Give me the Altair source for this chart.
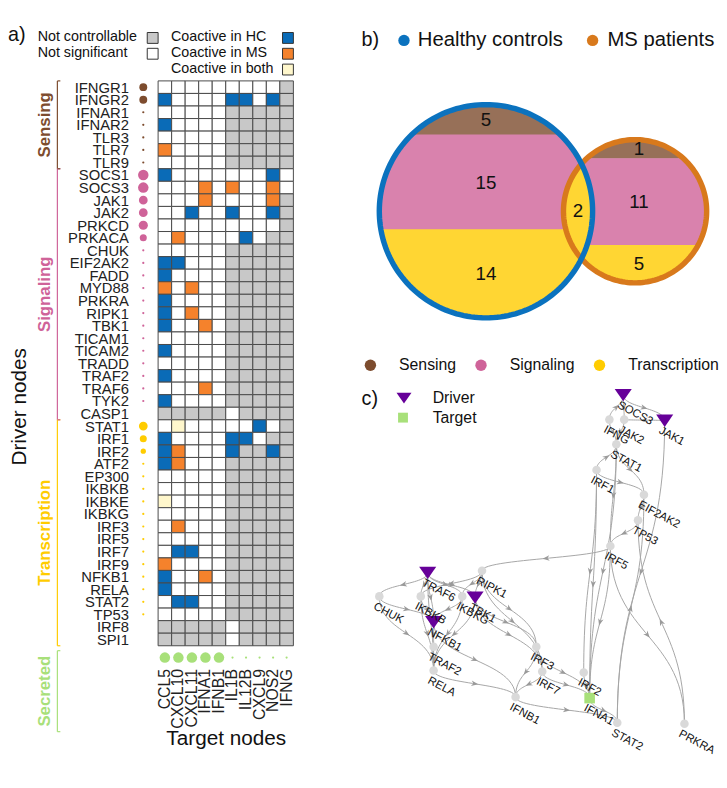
import json
import math
import numpy as np
import pandas as pd
import altair as alt

FONT = "Liberation Sans"

# ---------------- (a) driver / target heatmap ----------------
drivers = ["IFNGR1", "IFNGR2", "IFNAR1", "IFNAR2", "TLR3", "TLR7", "TLR9",
           "SOCS1", "SOCS3", "JAK1", "JAK2", "PRKCD", "PRKACA", "CHUK", "EIF2AK2",
           "FADD", "MYD88", "PRKRA", "RIPK1", "TBK1", "TICAM1", "TICAM2", "TRADD",
           "TRAF2", "TRAF6", "TYK2", "CASP1",
           "STAT1", "IRF1", "IRF2", "ATF2", "EP300", "IKBKB", "IKBKE", "IKBKG",
           "IRF3", "IRF5", "IRF7", "IRF9", "NFKB1", "RELA", "STAT2", "TP53",
           "IRF8", "SPI1"]
driver_group = ["Sensing"] * 7 + ["Signaling"] * 20 + ["Transcription"] * 18
driver_dot = [9, 9, 2.5, 2.5, 2.5, 2.5, 2.5,
              12, 12, 10, 10, 10.5, 8] + [2.5] * 13 + [0] + \
             [10, 8, 6] + [2.5] * 13 + [0, 0]

targets = ["CCL5", "CXCL10", "CXCL11", "IFNA1", "IFNB1", "IL1B", "IL12B", "CXCL9", "NOS2", "IFNG"]
target_dot = [12, 12, 12, 12, 12, 2.5, 2.5, 2.5, 2.5, 2.5]

# G = not controllable, W = not significant, B = coactive HC, O = coactive MS, Y = both
status_rows = [
    "WWWWWWWWWG", "BWWWWBBWBG", "WWWWWGGGGG", "BWWWWGGGGG", "WWWWWGGGGG", "OWWWWGGGGG", "WWWWWGGGGG",
    "BWWWWWWWBW", "WWWOWOWWOW", "WWWOWWWWOG", "WWBWWBWWBG", "WWWWWWWWWG", "WOWWWWBWGG", "WWWWWGGGGG",
    "BBWWWGGGGG", "BWWWWGGGGG", "OWOWWGGGGG", "BWWWWGGGGG", "BWOWWGGGGG", "BWWOWGGGGG", "WWWWWGGGGG",
    "BWWWWGGGGG", "WWWWWGGGGG", "BWWWWGGGGG", "WWWOWGGGGG", "BWWWWGGGGG", "GGGGGWGGGG",
    "WYWWWWWBWG", "BWWWWBBWGG", "BOWWWBGGBG", "BOWWWGGGGG", "WWWWWGGGGG", "WWWWWGGGGG", "YWWWWGGGGG",
    "WWWWWGGGGG", "WOWWWGGGGG", "WWWWWGGGGG", "WBBWWGGGGG", "OWWWWGGGGG", "BWWOWGGGGG", "BWWWWGGGGG",
    "WBBWWGGGGG", "WWWWWGGGGG", "GGGGGWGGGG", "GGGGGWGGGG",
]
status_code = {"G": "Not controllable", "W": "Not significant", "B": "Coactive in HC",
               "O": "Coactive in MS", "Y": "Coactive in both"}
legend_left = ["Not controllable", "Not significant"]
legend_right = ["Coactive in HC", "Coactive in MS", "Coactive in both"]
categories = ["Sensing", "Signaling", "Transcription", "Secreted"]

# ---------------- (b) Venn counts ----------------
venn_cats = ["Sensing", "Signaling", "Transcription"]
hc_only = [5, 15, 14]
ms_only = [1, 11, 5]
shared_transcription = 2
set_names = ["Healthy controls", "MS patients"]

# ---------------- (c) network ----------------
node_names = ["SOCS3", "JAK1", "IFNG", "JAK2", "STAT1", "IRF1", "EIF2AK2", "TP53", "IRF5",
              "RIPK1", "TRAF6", "CHUK", "IKBKB", "IKBKG", "TBK1", "NFKB1", "TRAF2", "RELA",
              "IRF3", "IRF7", "IRF2", "IFNB1", "IFNA1", "STAT2", "PRKRA"]
node_kind = ["Driver", "Driver", "Other", "Other", "Other", "Other", "Other", "Other", "Other",
             "Other", "Driver", "Other", "Other", "Other", "Driver", "Driver", "Other", "Other",
             "Other", "Other", "Other", "Other", "Target", "Other", "Other"]
# layout positions of the drawn graph
node_x = [281, 323, 267, 282, 274, 254, 302, 296, 268,
          138, 83, 34, 76, 118, 131, 89, 89, 89,
          193, 199, 241, 172, 247, 275, 343]
node_y = [390, 416, 415, 415, 440, 466, 491, 517, 543,
          568, 570, 594, 594, 594, 595, 620, 645, 669,
          645, 670, 671, 696, 697, 722, 723]
net_edges = [
    ("IFNG", "SOCS3"), ("SOCS3", "JAK2"), ("SOCS3", "JAK1"), ("JAK1", "JAK2"), ("JAK2", "STAT1"),
    ("IFNG", "STAT1"), ("IRF1", "STAT1"), ("STAT1", "EIF2AK2"), ("IRF1", "EIF2AK2"),
    ("EIF2AK2", "TP53"), ("TP53", "IRF5"), ("STAT1", "IRF5"), ("IRF5", "RIPK1"), ("IRF1", "IRF2"),
    ("IRF1", "IFNA1"), ("IRF5", "IFNA1"), ("STAT1", "IFNA1"), ("JAK1", "STAT2"), ("STAT2", "EIF2AK2"),
    ("PRKRA", "TP53"), ("IRF5", "PRKRA"),
    ("TRAF6", "CHUK"), ("TRAF6", "IKBKB"), ("TRAF6", "IKBKG"), ("TRAF6", "TBK1"), ("TRAF6", "NFKB1"),
    ("TRAF6", "RELA"), ("RIPK1", "IKBKB"), ("RIPK1", "IKBKG"), ("RIPK1", "TBK1"), ("RIPK1", "IRF3"),
    ("RIPK1", "IRF7"), ("CHUK", "NFKB1"), ("CHUK", "RELA"), ("IKBKB", "NFKB1"), ("IKBKB", "RELA"),
    ("IKBKG", "NFKB1"), ("IKBKG", "RELA"), ("TBK1", "IRF3"), ("TBK1", "IRF7"), ("TBK1", "RELA"),
    ("NFKB1", "TRAF2"), ("TRAF2", "RELA"), ("NFKB1", "IFNB1"), ("RELA", "IFNB1"),
    ("IRF3", "IFNB1"), ("IRF7", "IFNB1"), ("IRF3", "IFNA1"), ("IRF7", "IFNA1"), ("IRF2", "IFNA1"),
    ("IFNB1", "STAT2"), ("IFNA1", "STAT2"),
]

# ---------------- styles ----------------
STATUS_COL = {"Not controllable": "#C8C8C8", "Not significant": "#FFFFFF",
              "Coactive in HC": "#0A6BB7", "Coactive in MS": "#F5822C", "Coactive in both": "#FFF7CC"}
CAT_COL = {"Sensing": "#7D4C2E", "Signaling": "#CF6399", "Transcription": "#FFCC00", "Secreted": "#A8E07A"}
SET_COL = {"Healthy controls": "#0B72BE", "MS patients": "#D8791C"}
NODE_COL = {"Driver": "#660099", "Target": "#A8E07A", "Other": "#D9D9D9"}


def tint(hexcol, a):
    h = hexcol.lstrip("#")
    rgb = [int(h[i:i + 2], 16) for i in (0, 2, 4)]
    return "#" + "".join("%02X" % round(a * c + (1 - a) * 255) for c in rgb)


one = pd.DataFrame({"k": [0]})

# =============== panel a ===============
NR = len(drivers)
WA, HA = 137, 572
yA = alt.Scale(domain=[0, NR], reverse=True, nice=False, zero=False)
xA = alt.Scale(paddingInner=0, paddingOuter=0)
colA = alt.Scale(domain=list(STATUS_COL) + categories,
                 range=list(STATUS_COL.values()) + [CAT_COL[c] for c in categories])
sizeA = alt.Scale(type="pow", exponent=2, domain=[0, 12], range=[0, 113])

label_expr = json.dumps(drivers) + "[floor(datum.value)]"
axisX = alt.Axis(title="Target nodes", orient="bottom", labelAngle=270, labelAlign="right",
                 labelBaseline="middle", labelPadding=23, ticks=False, domain=False,
                 labelFontSize=16, labelColor="#222222", titleFontSize=21,
                 titleFontWeight="normal", titlePadding=0, titleColor="#111111")
axisY = alt.Axis(values=[i + 0.5 for i in range(NR)], labelExpr=label_expr, title=None,
                 ticks=False, domain=False, grid=False, labelPadding=30, labelFontSize=15,
                 labelColor="#222222", labelOverlap=False, labelFlush=False)


def YA(f):
    return alt.Y(f, scale=yA, axis=axisY)


cell_rows = []
for i, (d, s) in enumerate(zip(drivers, status_rows)):
    for j, t in enumerate(targets):
        cell_rows.append(dict(driver=d, target=t, r0=i, r1=i + 1, status=status_code[s[j]]))
cells = pd.DataFrame(cell_rows)

heat = alt.Chart(cells).mark_rect(stroke="#4a4a4a", strokeWidth=1).encode(
    x=alt.X("target:N", sort=targets, scale=xA, axis=axisX),
    y=YA("r0:Q"),
    y2="r1:Q",
    color=alt.Color("status:N", scale=colA, legend=None),
)

ddf = pd.DataFrame(dict(driver=drivers, rm=[i + 0.5 for i in range(NR)], group=driver_group, w=driver_dot))
ddots = alt.Chart(ddf).mark_circle(opacity=1).encode(
    x=alt.value(-15),
    y=YA("rm:Q"),
    size=alt.Size("w:Q", scale=sizeA, legend=None),
    color=alt.Color("group:N", scale=colA, legend=None),
)

tdf = pd.DataFrame(dict(target=targets, w=target_dot, group="Secreted"))
tdots = alt.Chart(tdf).mark_circle(opacity=1).encode(
    x=alt.X("target:N", sort=targets, scale=xA, axis=axisX),
    y=alt.value(HA + 12),
    size=alt.Size("w:Q", scale=sizeA, legend=None),
    color=alt.Color("group:N", scale=colA, legend=None),
)

grp_rows = []
for g in categories[:3]:
    idx = [i for i, gg in enumerate(driver_group) if gg == g]
    grp_rows.append(dict(name=g, top=idx[0], bot=idx[-1] + 1, mid=(idx[0] + idx[-1] + 1) / 2))
gdf = pd.DataFrame(grp_rows)

brk = alt.Chart(gdf).mark_rule(strokeWidth=1.2).encode(
    x=alt.value(-102), y=YA("top:Q"), y2="bot:Q",
    color=alt.Color("name:N", scale=colA, legend=None))
brk_t = alt.Chart(gdf).mark_rule(strokeWidth=1.2).encode(
    x=alt.value(-102), x2=alt.value(-99), y=YA("top:Q"),
    color=alt.Color("name:N", scale=colA, legend=None))
brk_b = alt.Chart(gdf).mark_rule(strokeWidth=1.2).encode(
    x=alt.value(-102), x2=alt.value(-99), y=YA("bot:Q"),
    color=alt.Color("name:N", scale=colA, legend=None))
grp_lab = alt.Chart(gdf).mark_text(angle=270, fontSize=17, fontWeight="bold", align="center",
                                   baseline="middle").encode(
    x=alt.value(-114), y=YA("mid:Q"), text="name:N",
    color=alt.Color("name:N", scale=colA, legend=None))

sec = pd.DataFrame({"name": ["Secreted"]})
sec_line = alt.Chart(sec).mark_rule(strokeWidth=1.2).encode(
    x=alt.value(-102), y=alt.value(HA + 5), y2=alt.value(HA + 87),
    color=alt.Color("name:N", scale=colA, legend=None))
sec_t = alt.Chart(sec).mark_rule(strokeWidth=1.2).encode(
    x=alt.value(-102), x2=alt.value(-99), y=alt.value(HA + 5),
    color=alt.Color("name:N", scale=colA, legend=None))
sec_b = alt.Chart(sec).mark_rule(strokeWidth=1.2).encode(
    x=alt.value(-102), x2=alt.value(-99), y=alt.value(HA + 87),
    color=alt.Color("name:N", scale=colA, legend=None))
sec_lab = alt.Chart(sec).mark_text(angle=270, fontSize=17, fontWeight="bold", align="center",
                                   baseline="middle").encode(
    x=alt.value(-114), y=alt.value(HA + 46), text="name:N",
    color=alt.Color("name:N", scale=colA, legend=None))

legend_layers = []
for col, items in enumerate([legend_left, legend_right]):
    tx = -122 if col == 0 else 13
    bx = -11 if col == 0 else WA - 11
    for r, lab in enumerate(items):
        ldf = pd.DataFrame({"status": [lab]})
        legend_layers.append(alt.Chart(ldf).mark_text(align="left", baseline="alphabetic", fontSize=14.5,
                                                      color="#111111").encode(
            x=alt.value(tx), y=alt.value(-40 + 16 * r), text="status:N"))
        legend_layers.append(alt.Chart(ldf).mark_rect(stroke="#333333", strokeWidth=1).encode(
            x=alt.value(bx), x2=alt.value(bx + 11), y=alt.value(-49 + 16 * r), y2=alt.value(-38 + 16 * r),
            color=alt.Color("status:N", scale=colA, legend=None)))

a_lab = alt.Chart(one).mark_text(text="a)", fontSize=20, align="left", baseline="alphabetic",
                                 color="#111111").encode(x=alt.value(-152), y=alt.value(-40))
drv_title = alt.Chart(one).mark_text(text="Driver nodes", fontSize=21, angle=270, align="center",
                                     baseline="middle", color="#111111").encode(
    x=alt.value(-140), y=alt.value(330))
top_pad = alt.Chart(one).mark_point(opacity=0, size=1).encode(x=alt.value(0), y=alt.value(-68))

panelA = alt.layer(heat, ddots, tdots, brk, brk_t, brk_b, grp_lab, sec_line, sec_t, sec_b, sec_lab,
                   *legend_layers, a_lab, drv_title, top_pad).properties(width=WA, height=HA)

# =============== right panel (b + c) ===============
# coordinates of the right panel are page-like: y0 = top of the figure
Y0 = 72
WR, HR = 374, 693
xs = alt.Scale(domain=[0, WR], nice=False, zero=False)
ys = alt.Scale(domain=[Y0, Y0 + HR], reverse=True, nice=False, zero=False)
colR = alt.Scale(domain=venn_cats + set_names + ["Driver", "Target", "Other"],
                 range=[CAT_COL[c] for c in venn_cats] + [SET_COL[s] for s in set_names]
                 + [NODE_COL[k] for k in ["Driver", "Target", "Other"]])
fillR = alt.Scale(domain=venn_cats, range=[tint(CAT_COL[c], 0.8) for c in venn_cats])
strokeR = alt.Scale(domain=set_names, range=[SET_COL[s] for s in set_names])


def X(f):
    return alt.X(f, scale=xs, axis=None)


def Y(f):
    return alt.Y(f, scale=ys, axis=None)


# --- Venn geometry
cx1, cy, R1 = 142.0, 204.0, 108.0
cx2, R2 = 293.0, 72.5
cuts1 = [0.1435, 0.588]   # band boundaries as fraction of diameter (top to bottom)
cuts2 = [0.134, 0.741]
D = cx2 - cx1
xi = (R1 ** 2 - R2 ** 2 + D ** 2) / (2 * D)
hlens = math.sqrt(R1 ** 2 - xi ** 2)


def s1(y):
    return math.sqrt(max(R1 ** 2 - (y - cy) ** 2, 0.0))


def s2(y):
    return math.sqrt(max(R2 ** 2 - (y - cy) ** 2, 0.0))


def in_lens(y):
    return abs(y - cy) <= hlens


def yrange(a, b):
    ys_ = list(np.linspace(a, b, 80))
    for e in (cy - hlens, cy + hlens):
        if a < e < b:
            ys_.append(e)
    return sorted(ys_)


area_rows = []
bands1 = [cy - R1] + [cy - R1 + f * 2 * R1 for f in cuts1] + [cy + R1]
bands2 = [cy - R2] + [cy - R2 + f * 2 * R2 for f in cuts2] + [cy + R2]
for k, c in enumerate(venn_cats):
    a, b = bands1[k], bands1[k + 1]
    for y in yrange(a - (0.7 if k else 0), b):
        xl, xr = cx1 - s1(y), cx1 + s1(y)
        if in_lens(y):
            xr = min(xr, cx2 - s2(y))
        area_rows.append(dict(region="HC-" + c, cat=c, y=y, xl=xl, xr=xr))
    a, b = bands2[k], bands2[k + 1]
    for y in yrange(a - (0.7 if k else 0), b):
        xl, xr = cx2 - s2(y), cx2 + s2(y)
        if in_lens(y):
            xl = max(xl, cx1 + s1(y))
        area_rows.append(dict(region="MS-" + c, cat=c, y=y, xl=xl, xr=xr))
for y in np.linspace(cy - hlens, cy + hlens, 80):
    area_rows.append(dict(region="both-Transcription", cat="Transcription", y=y,
                          xl=cx2 - s2(y), xr=cx1 + s1(y)))
adf = pd.DataFrame(area_rows)
venn_fill = alt.Chart(adf).mark_area(orient="horizontal", opacity=1).encode(
    y=Y("y:Q"), x=alt.X("xl:Q", scale=xs, axis=None, stack=None), x2="xr:Q",
    fill=alt.Fill("cat:N", scale=fillR, legend=None), detail="region:N")

ring_rows = []
for sname, (cx, r) in zip(set_names, [(cx1, R1), (cx2, R2)]):
    for i, th in enumerate(np.linspace(0, 2 * math.pi, 181)):
        ring_rows.append(dict(set=sname, i=i, x=cx + r * math.cos(th), y=cy + r * math.sin(th)))
rdf = pd.DataFrame(ring_rows)
ring_ms = alt.Chart(rdf[rdf.set == "MS patients"]).mark_line(strokeWidth=5.5).encode(
    x=X("x:Q"), y=Y("y:Q"), order="i:Q", stroke=alt.Stroke("set:N", scale=strokeR, legend=None))
ring_hc = alt.Chart(rdf[rdf.set == "Healthy controls"]).mark_line(strokeWidth=5.5).encode(
    x=X("x:Q"), y=Y("y:Q"), order="i:Q", stroke=alt.Stroke("set:N", scale=strokeR, legend=None))

num_rows = []
for k in range(3):
    num_rows.append(dict(x=cx1, y=(bands1[k] + bands1[k + 1]) / 2, n=str(hc_only[k])))
    num_rows.append(dict(x=cx2 + 4, y=(bands2[k] + bands2[k + 1]) / 2, n=str(ms_only[k])))
num_rows.append(dict(x=((cx2 - R2) + (cx1 + R1)) / 2, y=cy, n=str(shared_transcription)))
venn_nums = alt.Chart(pd.DataFrame(num_rows)).mark_text(fontSize=19, color="#111111",
                                                        baseline="middle", align="center").encode(
    x=X("x:Q"), y=Y("y:Q"), text="n:N")

# --- panel b title / set legend
b_lab = alt.Chart(pd.DataFrame({"x": [16], "y": [37], "t": ["b)"]})).mark_text(
    fontSize=20, align="left", baseline="alphabetic", color="#111111").encode(x=X("x:Q"), y=Y("y:Q"), text="t:N")
set_leg = pd.DataFrame({"set": set_names, "x": [59, 250], "y": [31, 31], "tx": [73, 265]})
set_dots = alt.Chart(set_leg).mark_circle(size=133, opacity=1).encode(
    x=X("x:Q"), y=Y("y:Q"), color=alt.Color("set:N", scale=colR, legend=None))
set_text = alt.Chart(set_leg).mark_text(fontSize=20.5, align="left", baseline="alphabetic",
                                        color="#111111", dy=6).encode(
    x=X("tx:Q"), y=Y("y:Q"), text="set:N")

# --- category legend
cat_leg = pd.DataFrame({"cat": venn_cats, "x": [25, 137, 257], "tx": [54, 166, 286], "y": [360] * 3})
cat_dots = alt.Chart(cat_leg).mark_circle(size=133, opacity=1).encode(
    x=X("x:Q"), y=Y("y:Q"), color=alt.Color("cat:N", scale=colR, legend=None))
cat_text = alt.Chart(cat_leg).mark_text(fontSize=16, align="left", baseline="middle",
                                        color="#111111").encode(x=X("tx:Q"), y=Y("y:Q"), text="cat:N")

# --- network
pos = {n: (x, y) for n, x, y in zip(node_names, node_x, node_y)}
erows, arows = [], []
for k, (s, t) in enumerate(net_edges):
    x1, y1 = pos[s]
    x2, y2 = pos[t]
    dy = y2 - y1
    P = np.array([[x1, y1], [x1, y1 + 0.5 * dy], [x2, y2 - 0.5 * dy], [x2, y2]], dtype=float)
    for i, tt in enumerate(np.linspace(0, 1, 30)):
        b = (1 - tt) ** 3 * P[0] + 3 * (1 - tt) ** 2 * tt * P[1] + 3 * (1 - tt) * tt ** 2 * P[2] + tt ** 3 * P[3]
        erows.append(dict(edge=k, i=i, x=b[0], y=b[1]))
    tt = 0.5
    b = (1 - tt) ** 3 * P[0] + 3 * (1 - tt) ** 2 * tt * P[1] + 3 * (1 - tt) * tt ** 2 * P[2] + tt ** 3 * P[3]
    d = 3 * (1 - tt) ** 2 * (P[1] - P[0]) + 6 * (1 - tt) * tt * (P[2] - P[1]) + 3 * tt ** 2 * (P[3] - P[2])
    ang = math.degrees(math.atan2(-d[0], d[1])) % 360
    arows.append(dict(edge=k, x=b[0], y=b[1], ang=ang))
edf = pd.DataFrame(erows)
arr_df = pd.DataFrame(arows)
edges = alt.Chart(edf).mark_line(strokeWidth=1, color="#A6A6A6").encode(
    x=X("x:Q"), y=Y("y:Q"), detail="edge:N", order="i:Q")
ARROW = "M0,1L-0.75,-0.9L0,-0.35L0.75,-0.9Z"
arrows = alt.Chart(arr_df).mark_point(shape=ARROW, filled=True, size=55, opacity=1, color="#9A9A9A").encode(
    x=X("x:Q"), y=Y("y:Q"), angle=alt.Angle("ang:Q", scale=None))

ndf = pd.DataFrame(dict(name=node_names, kind=node_kind, x=node_x, y=node_y))
TRI = "M-1,-0.7L1,-0.7L0,0.75Z"
n_other = alt.Chart(ndf[ndf.kind == "Other"]).mark_circle(size=75, opacity=1).encode(
    x=X("x:Q"), y=Y("y:Q"), color=alt.Color("kind:N", scale=colR, legend=None))
n_drv = alt.Chart(ndf[ndf.kind == "Driver"]).mark_point(shape=TRI, filled=True, size=300, opacity=1).encode(
    x=X("x:Q"), y=Y("y:Q"), color=alt.Color("kind:N", scale=colR, legend=None))
n_tgt = alt.Chart(ndf[ndf.kind == "Target"]).mark_square(size=115, opacity=1).encode(
    x=X("x:Q"), y=Y("y:Q"), color=alt.Color("kind:N", scale=colR, legend=None))
n_lab = alt.Chart(ndf).mark_text(angle=28, align="left", baseline="top", dx=0, dy=5, fontSize=11.5,
                                 color="#111111").encode(x=X("x:Q"), y=Y("y:Q"), text="name:N")

# --- network legend
c_lab = alt.Chart(pd.DataFrame({"x": [16], "y": [400], "t": ["c)"]})).mark_text(
    fontSize=20, align="left", baseline="alphabetic", color="#111111").encode(x=X("x:Q"), y=Y("y:Q"), text="t:N")
kleg = pd.DataFrame({"kind": ["Driver", "Target"], "x": [59, 58], "y": [393, 413], "tx": [88, 88]})
k_drv = alt.Chart(kleg[kleg.kind == "Driver"]).mark_point(shape=TRI, filled=True, size=230, opacity=1).encode(
    x=X("x:Q"), y=Y("y:Q"), color=alt.Color("kind:N", scale=colR, legend=None))
k_tgt = alt.Chart(kleg[kleg.kind == "Target"]).mark_square(size=100, opacity=1).encode(
    x=X("x:Q"), y=Y("y:Q"), color=alt.Color("kind:N", scale=colR, legend=None))
k_text = alt.Chart(kleg).mark_text(fontSize=16, align="left", baseline="middle", color="#111111").encode(
    x=X("tx:Q"), y=Y("y:Q"), text="kind:N")

panelR = alt.layer(venn_fill, ring_ms, ring_hc, venn_nums, b_lab, set_dots, set_text, cat_dots, cat_text,
                   edges, arrows, n_other, n_drv, n_tgt, n_lab, c_lab, k_drv, k_tgt, k_text
                   ).properties(width=WR, height=HR)

chart = alt.hconcat(panelA, panelR, spacing=52).resolve_scale(
    color="independent", size="independent", fill="independent", stroke="independent"
).properties(
    padding={"left": 0, "top": 0, "right": 0, "bottom": 0}
).configure(font=FONT).configure_view(stroke=None)

chart.save("out.html", embed_options={"renderer": "svg", "actions": False})
